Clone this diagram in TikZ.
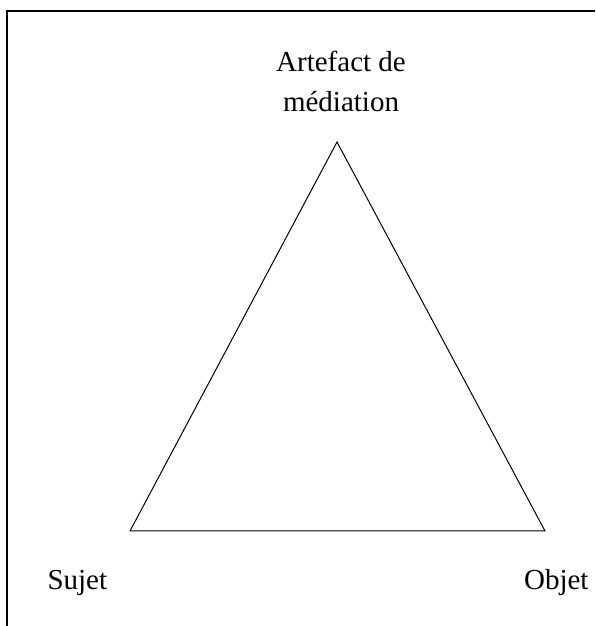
\documentclass[tikz,border=0pt]{standalone}
\usepackage{fontspec}
\setmainfont{Liberation Serif}
\usepackage{tikz}

\begin{document}
\begin{tikzpicture}[x = 1pt, y = 1pt, line width = 1pt,
                        corner/.style = {inner sep = 0pt, minimum size = 0pt},
                        word/.style = {inner sep = 0pt, font = \fontsize{29}{40}\selectfont}]
      \useasboundingbox (0, 0) rectangle (595, 626);
      \draw [line width = 2pt] (7, 0) -- (7, 615) -- (595, 615);
      \node [corner] (art) at (337, 484){};
      \node [corner] (suj) at (130, 95){};
      \node [corner] (obj) at (545, 95){};
      \node [word, align = center, anchor = north] (lart) at (341, 575){Artefact de\\médiation};
      \node [word, anchor = base west] (lsuj) at (47, 36){Sujet};
      \node [word, anchor = base east] (lobj) at (589, 36){Objet};
      \draw [line join = miter] (art.center) -- (obj.center) -- (suj.center) -- cycle;
    \end{tikzpicture}
\end{document}
